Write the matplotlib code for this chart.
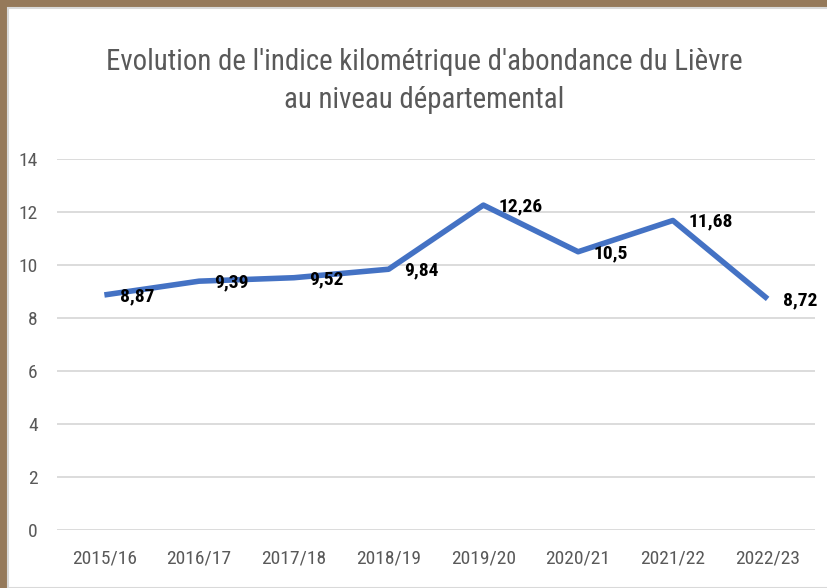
import matplotlib.pyplot as plt
from matplotlib.patches import Rectangle

seasons = ['2015/16', '2016/17', '2017/18', '2018/19',
           '2019/20', '2020/21', '2021/22', '2022/23']
ika = [8.87, 9.39, 9.52, 9.84, 12.26, 10.5, 11.68, 8.72]
ika_labels = ['8,87', '9,39', '9,52', '9,84', '12,26', '10,5', '11,68', '8,72']
yticks = [0, 2, 4, 6, 8, 10, 12, 14]

plt.rcParams['font.family'] = ['Liberation Sans Narrow', 'Roboto Condensed', 'Roboto', 'DejaVu Sans']

fig = plt.figure(figsize=(8.28, 5.88), dpi=100)
fig.patch.set_facecolor('#95795a')
# white chart panel on the brown backdrop
fig.add_artist(Rectangle((8 / 828, 0), 1, 1 - 8 / 588, transform=fig.transFigure,
                         facecolor='white', edgecolor='#d9d9d9', linewidth=1.5, zorder=-5))

ax = fig.add_axes([57 / 828, 1 - 530 / 588, 758 / 828, 371 / 588])
ax.set_facecolor('none')
x = list(range(len(seasons)))
ax.plot(x, ika, color='#4472c4', linewidth=4, solid_capstyle='butt', zorder=3)
for xi, v, lab in zip(x, ika, ika_labels):
    ax.annotate(lab, (xi, v), xytext=(11, -1), textcoords='offset points',
                ha='left', va='center', fontsize=14, fontweight='bold', color='black')

ax.set_xlim(-0.5, 7.5)
ax.set_ylim(0, 14)
ax.set_yticks(yticks)
ax.set_xticks(x)
ax.set_xticklabels(seasons)
ax.grid(axis='y', color='#d9d9d9', linewidth=1.3)
ax.set_axisbelow(True)
for s in ax.spines.values():
    s.set_visible(False)
ax.tick_params(length=0, labelsize=14, colors='#595959')
ax.tick_params(axis='y', pad=14)
ax.tick_params(axis='x', pad=14)

fig.text(424 / 828, 1 - 81 / 588, "Evolution de l'indice kilométrique d'abondance du Lièvre\nau niveau départemental",
         ha='center', va='center', fontsize=20.7, color='#595959', linespacing=1.45,
         multialignment='center')

fig.savefig('out.png', dpi=100, facecolor=fig.get_facecolor())
